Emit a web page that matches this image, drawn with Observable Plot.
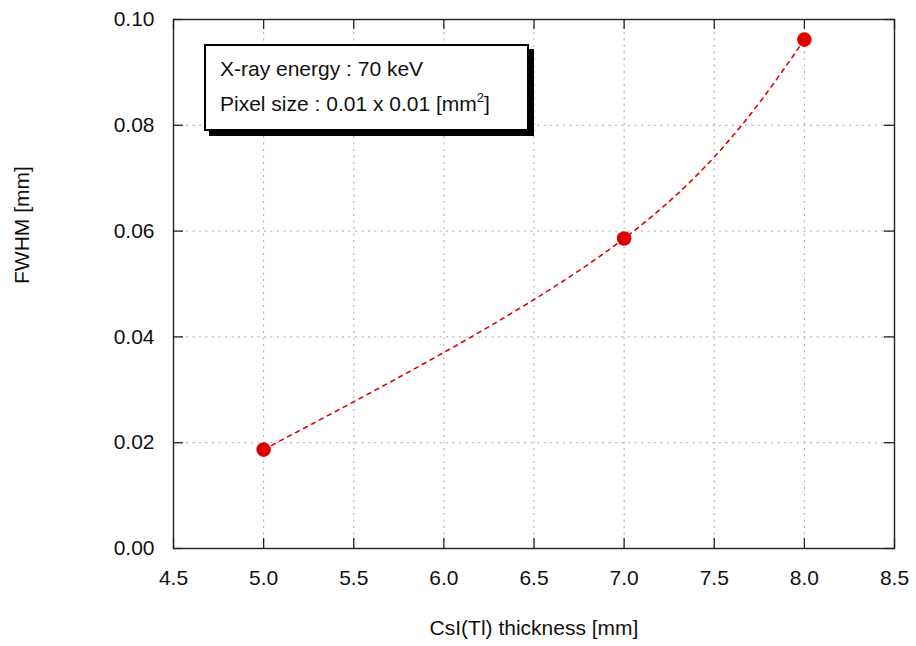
<!DOCTYPE html>
<html>
<head>
<meta charset="utf-8">
<script src="https://cdn.jsdelivr.net/npm/d3@7"></script>
<script src="https://cdn.jsdelivr.net/npm/@observablehq/plot@0.6"></script>
<style>
  html, body { margin: 0; padding: 0; background: #fff; }
  #wrap { position: relative; width: 916px; height: 646px; font-family: "Liberation Sans", Arial, sans-serif; }
  #note {
    position: absolute; left: 204px; top: 44px; width: 325px; height: 87px;
    box-sizing: border-box; border: 2px solid #000; background: #fff;
    box-shadow: 5px 5px 0 #000; font-size: 21px; line-height: 21px; color: #111;
  }
  #note div { position: absolute; left: 14px; white-space: nowrap; }
  #note sup { font-size: 13px; line-height: 0; vertical-align: 0; position: relative; top: -9px; }
</style>
</head>
<body>
<div id="wrap"></div>
<script>
const thickness = [5.0, 7.0, 8.0];
const fwhm = [0.0187, 0.0586, 0.0962];
const xTicks = [4.5, 5.0, 5.5, 6.0, 6.5, 7.0, 7.5, 8.0, 8.5];
const yTicks = [0.00, 0.02, 0.04, 0.06, 0.08, 0.10];
const xLabel = "CsI(Tl) thickness [mm]";
const yLabel = "FWHM [mm]";
const noteLine1 = "X-ray energy : 70 keV";
const noteLine2 = "Pixel size : 0.01 x 0.01 [mm";

const data = thickness.map((t, i) => ({t, f: fwhm[i]}));

const W = 916, H = 646, ML = 173, MR = 22, MT = 19, MB = 98;
const plotH = H - MT - MB, plotW = W - ML - MR;
const red = "#dd0000";

const chart = Plot.plot({
  width: W, height: H,
  marginLeft: ML, marginRight: MR, marginTop: MT, marginBottom: MB,
  style: {fontFamily: '"Liberation Sans", Arial, sans-serif', fontSize: "21px", color: "#111", background: "#fff"},
  x: {domain: [4.5, 8.5]},
  y: {domain: [0, 0.1]},
  marks: [
    Plot.gridX(xTicks, {stroke: "#a8a8a8", strokeOpacity: 1, strokeDasharray: "2,4.5", strokeWidth: 1}),
    Plot.gridY(yTicks, {stroke: "#a8a8a8", strokeOpacity: 1, strokeDasharray: "2,4.5", strokeWidth: 1}),
    Plot.frame({stroke: "#222", strokeWidth: 1.4}),
    Plot.tickX(xTicks, {x: d => d, insetTop: plotH - 10, stroke: "#222", strokeWidth: 1.3}),
    Plot.tickX(xTicks, {x: d => d, insetBottom: plotH - 10, stroke: "#222", strokeWidth: 1.3}),
    Plot.tickY(yTicks, {y: d => d, insetRight: plotW - 10, stroke: "#222", strokeWidth: 1.3}),
    Plot.tickY(yTicks, {y: d => d, insetLeft: plotW - 10, stroke: "#222", strokeWidth: 1.3}),
    Plot.axisX(xTicks, {tickSize: 0, tickPadding: 22, fontSize: 21, label: null, tickFormat: d => d.toFixed(1)}),
    Plot.axisY(yTicks, {tickSize: 0, tickPadding: 19, fontSize: 21, label: null, tickFormat: d => d.toFixed(2)}),
    Plot.line(data, {x: "t", y: "f", curve: "natural", stroke: red, strokeWidth: 1.6, strokeDasharray: "4,5"}),
    Plot.dot(data, {x: "t", y: "f", r: 7.3, fill: red, stroke: null}),
    Plot.text([xLabel], {text: d => d, frameAnchor: "bottom", dy: 72, lineAnchor: "top", fontSize: 21}),
    Plot.text([yLabel], {text: d => d, frameAnchor: "left", dx: -151, rotate: -90, fontSize: 21})
  ]
});

const wrap = document.getElementById("wrap");
wrap.appendChild(chart);

const note = document.createElement("div");
note.id = "note";
const l1 = document.createElement("div");
l1.style.top = "12px";
l1.textContent = noteLine1;
const l2 = document.createElement("div");
l2.style.top = "47px";
l2.appendChild(document.createTextNode(noteLine2));
const sup = document.createElement("sup");
sup.textContent = "2";
l2.appendChild(sup);
l2.appendChild(document.createTextNode("]"));
note.appendChild(l1);
note.appendChild(l2);
wrap.appendChild(note);
</script>
</body>
</html>
